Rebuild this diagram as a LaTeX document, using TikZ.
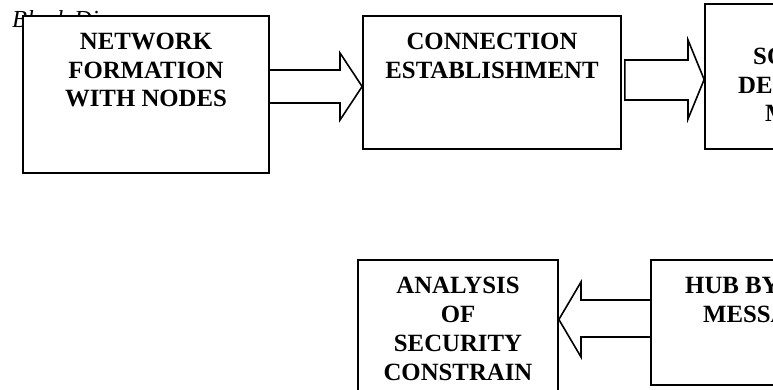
\documentclass[tikz,border=0pt]{standalone}
\usepackage{fontspec}
\setmainfont{Liberation Serif}
\usepackage{tikz}
\usetikzlibrary{calc, positioning}

\begin{document}
\begin{tikzpicture}[x=1pt, y=-1pt, font=\fontsize{24.8}{28.7}\selectfont\bfseries]
		\tikzstyle{box} = [draw=black, rectangle, line width=1.7pt, fill=white, inner sep=0]
		\tikzstyle{lbl} = [align=center, inner sep=0, anchor=base]
		\tikzstyle{frag} = [inner sep=0, anchor=base west]
		\tikzstyle{blk} = [draw=black, line width=1.6pt, line join=miter]
		
		\useasboundingbox (0,0) rectangle (773,390);
		\clip (0,0) rectangle (773,390);
		
		\node[frag, font=\fontsize{24.5}{28.7}\selectfont\itshape] at (12, 28) (title) {Block Di};
		
		% top row
		\node[box, minimum width=246, minimum height=157] at (146, 94.5) (net) {};
		\node[box, minimum width=258, minimum height=133] at (492, 82.5) (con) {};
		\node[box, minimum width=200, minimum height=145] at (805, 76.5) (src) {};
		
		% labels sit on the baseline of their last line
		\node[lbl] at (146, 107) (netlbl) {NETWORK\\ FORMATION\\ WITH NODES};
		\node[lbl] at (492, 78.7) (conlbl) {CONNECTION\\ ESTABLISHMENT};
		\node[frag] at (753, 65) (src1) {SO};
		\node[frag] at (738, 93.5) (src2) {DE};
		\node[frag] at (765, 122) (src3) {M};
		
		% bottom row
		\node[box, minimum width=200, minimum height=160] at (458, 340) (ana) {};
		\node[box, minimum width=200, minimum height=125] at (751, 322.5) (hub) {};
		
		\node[lbl] at (458, 380) (analbl) {ANALYSIS\\ OF\\ SECURITY\\ CONSTRAIN};
		\node[frag] at (685, 293) (hub1) {HUB BY};
		\node[frag] at (703, 322) (hub2) {MESSA};
		
		% block arrows
		\draw[blk] (net.east |- 0,70) -- (340,70) -- (340,53) -- (con.west |- 0,86.5)
			-- (340,120) -- (340,103) -- (net.east |- 0,103);
		\draw[blk] ([xshift=3]con.east |- 0,60) -- (688,60) -- (688,40) -- (src.west |- 0,79.5)
			-- (688,119) -- (688,100) -- ([xshift=3]con.east |- 0,100) -- cycle;
		\draw[blk] (hub.west |- 0,300) -- (581,300) -- (581,282) -- (ana.east |- 0,319.5)
			-- (581,357) -- (581,337) -- (hub.west |- 0,337);
	\end{tikzpicture}
\end{document}
